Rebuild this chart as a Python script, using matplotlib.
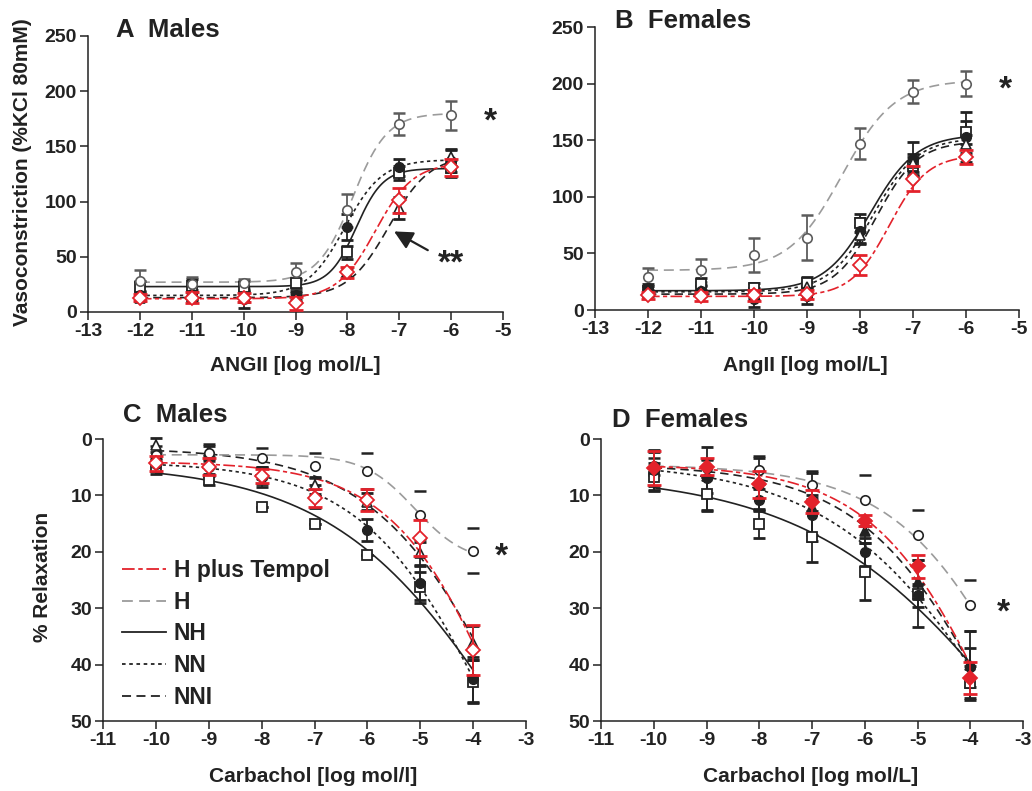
import numpy as np
import matplotlib
matplotlib.use('Agg')
import matplotlib.pyplot as plt
from matplotlib.lines import Line2D

plt.rcParams['font.family'] = ['Liberation Sans', 'DejaVu Sans']
plt.rcParams['font.weight'] = 'bold'
plt.rcParams['axes.labelweight'] = 'bold'
plt.rcParams['axes.unicode_minus'] = False

RED = '#e3222b'
GRAY_LINE = '#9b9b9b'
GRAY_MK = '#5c5c5c'
INK = '#222222'

# ---- data ----
ang_x = [-12, -11, -10, -9, -8, -7, -6]
carb_x = [-10, -9, -8, -7, -6, -5, -4]

# A: ANGII, males  (mean, sem)
a_HT = [13, 13, 13, 8, 36, 101, 131]
a_HT_err = [3, 5, 4, 6, 5, 11, 8]
a_H = [28, 25, 26, 36, 92, 170, 178]
a_H_err = [10, 7, 4, 8, 15, 10, 13]
a_NH = [23, 24, 23, 26, 54, 126, 130]
a_NH_err = [5, 6, 5, 4, 6, 6, 8]
a_NN = [15, 16, 12, 15, 77, 131, 137]
a_NN_err = [4, 4, 8, 4, 12, 8, 10]
a_NNI = [13, 14, 14, 13, 36, 94, 140]
a_NNI_err = [3, 4, 5, 4, 4, 10, 8]

# B: AngII, females
b_HT = [13, 12, 13, 14, 40, 116, 135]
b_HT_err = [3, 4, 5, 4, 9, 11, 6]
b_H = [29, 35, 49, 64, 147, 193, 200]
b_H_err = [8, 10, 15, 20, 14, 10, 11]
b_NH = [17, 23, 19, 24, 77, 127, 157]
b_NH_err = [4, 5, 5, 5, 8, 8, 10]
b_NN = [19, 17, 10, 12, 70, 133, 153]
b_NN_err = [4, 4, 7, 7, 11, 15, 22]
b_NNI = [15, 17, 14, 20, 66, 130, 147]
b_NNI_err = [3, 5, 5, 5, 8, 8, 8]

# C: carbachol, males
c_HT = [4.3, 4.9, 6.6, 10.4, 10.8, 17.6, 37.4]
c_HT_err = [1.3, 1.5, 1.2, 1.6, 2.0, 3.2, 4.5]
c_H = [2.8, 2.4, 3.4, 4.7, 5.6, 13.5, 19.8]
c_H_err = [1.5, 1.5, 1.8, 2.3, 3.2, 4.3, 4.0]
c_NH = [5.0, 7.2, 12.1, 15.1, 20.6, 26.3, 43.0]
c_NH_err = [1.2, 1.0, 0, 0, 0, 2.8, 3.8]
c_NN = [4.5, 5.0, 6.7, 10.2, 16.1, 25.6, 42.6]
c_NN_err = [1.2, 1.5, 1.8, 2.0, 2.0, 3.0, 4.0]
c_NNI = [1.1, 2.2, 6.4, 8.2, 11.1, 20.3, 36.2]
c_NNI_err = [1.2, 1.0, 1.5, 1.5, 1.5, 2.0, 3.0]

# D: carbachol, females
d_HT = [5.2, 4.9, 8.0, 11.1, 14.5, 22.6, 42.4]
d_HT_err = [3.0, 1.5, 2.4, 2.1, 1.0, 2.0, 2.9]
d_H = [4.8, 5.2, 5.5, 8.2, 10.9, 17.0, 29.5]
d_H_err = [1.5, 1.5, 2.5, 2.5, 4.6, 4.5, 4.5]
d_NH = [6.7, 9.8, 15.1, 17.3, 23.5, 27.4, 43.3]
d_NH_err = [2.5, 3.0, 2.5, 4.5, 5.0, 6.0, 3.0]
d_NN = [5.5, 7.0, 10.8, 13.5, 20.0, 27.7, 40.5]
d_NN_err = [3.5, 5.5, 2.0, 3.5, 2.5, 2.0, 3.5]
d_NNI = [5.3, 6.5, 7.9, 12.0, 16.4, 25.3, 40.0]
d_NNI_err = [3.0, 3.0, 4.5, 6.0, 2.0, 3.0, 6.0]

# fitted curves: bottom, top, logEC50, hill slope
a_fit = {'HT': [12, 135, -7.46, 1.19], 'H': [27, 180, -7.9, 1.3],
         'NH': [23, 130, -7.83, 1.67], 'NN': [15, 138, -8.05, 1.2],
         'NNI': [13, 142, -7.2, 1.1]}
b_fit = {'HT': [12, 137, -7.45, 1.2], 'H': [35, 203, -8.34, 0.87],
         'NH': [17, 155, -7.8, 1.0], 'NN': [16, 152, -7.75, 1.05],
         'NNI': [14, 149, -7.7, 1.1]}
c_fit = {'HT': [4, 100, -3.26, 0.4], 'H': [2.8, 22, -5.1, 0.9],
         'NH': [4.3, 100, -3.19, 0.255], 'NN': [4, 100, -3.49, 0.345],
         'NNI': [1.5, 100, -3.14, 0.328]}
d_fit = {'HT': [4.5, 100, -3.37, 0.3625], 'H': [4.5, 100, -2.69, 0.343],
         'NH': [6, 100, -2.83, 0.2145], 'NN': [4, 100, -3.19, 0.263],
         'NNI': [4.5, 100, -3.31, 0.329]}

legend_names = ['H plus Tempol', 'H', 'NH', 'NN', 'NNI']
order = ['NH', 'NN', 'NNI', 'H', 'HT']

line_style = {
    'HT': dict(color=RED, ls=(0, (7, 2, 2.5, 2))),
    'H': dict(color=GRAY_LINE, ls=(0, (6, 3.5))),
    'NH': dict(color=INK, ls='-'),
    'NN': dict(color=INK, ls=(0, (2, 2))),
    'NNI': dict(color=INK, ls=(0, (5, 3))),
}


def hill(x, bottom, top, ec, h):
    return bottom + (top - bottom) / (1 + 10 ** ((ec - x) * h))


def style_axis(ax, xlim, ylim, yticks):
    ax.set_xlim(*xlim)
    ax.set_ylim(*ylim)
    ax.set_xticks(range(int(xlim[0]), int(xlim[1]) + 1))
    ax.set_yticks(yticks)
    for s in ['top', 'right']:
        ax.spines[s].set_visible(False)
    for s in ['left', 'bottom']:
        ax.spines[s].set_linewidth(1.1)
        ax.spines[s].set_color(INK)
    ax.tick_params(direction='out', length=6, width=1.1, color=INK,
                   labelsize=14, pad=2)
    for lab in ax.get_xticklabels() + ax.get_yticklabels():
        lab.set_fontweight('bold')
        lab.set_color(INK)


def draw_panel(ax, x, series, fits, female_fill=False, cap_only_h=False):
    xs = np.linspace(x[0], x[-1], 300)
    for g in order:
        p = fits[g]
        ax.plot(xs, hill(xs, *p), lw=1.2, zorder=2, **line_style[g])
    for g in order:
        y, err = series[g]
        if g == 'H':
            ec = INK if cap_only_h else GRAY_MK
            ax.errorbar(x, y, yerr=err, fmt='none', ecolor=ec,
                        elinewidth=0 if cap_only_h else 1.3,
                        capsize=4.5, capthick=1.8, zorder=3)
            ax.plot(x, y, 'o', ms=6.8, mfc='white', mec=ec, mew=1.2,
                    ls='none', zorder=4)
        elif g == 'HT':
            ax.errorbar(x, y, yerr=err, fmt='none', ecolor=RED, elinewidth=1.3,
                        capsize=5, capthick=2, zorder=5)
            ax.plot(x, y, 'D', ms=7, mfc=RED if female_fill else 'white',
                    mec=RED, mew=1.3, ls='none', zorder=6)
        else:
            ax.errorbar(x, y, yerr=err, fmt='none', ecolor=INK, elinewidth=1.3,
                        capsize=4.5, capthick=2, zorder=3)
            if g == 'NH':
                ax.plot(x, y, 's', ms=6.8, mfc='white', mec=INK, mew=1.3,
                        ls='none', zorder=4)
            elif g == 'NN':
                ax.plot(x, y, 'o', ms=7, mfc=INK, mec=INK, ls='none', zorder=4)
            else:
                ax.plot(x, y, '^', ms=7, mfc=INK if female_fill else 'white',
                        mec=INK, mew=1.2, ls='none', zorder=4)


W, H = 1032, 791
fig = plt.figure(figsize=(W / 100, H / 100), dpi=100)


def add_ax(x0, y0, x1, y1):
    return fig.add_axes([x0 / W, 1 - y1 / H, (x1 - x0) / W, (y1 - y0) / H])


def ftext(px, py, s, **kw):
    fig.text(px / W, 1 - py / H, s, **kw)


axA = add_ax(88, 36, 503, 312)
axB = add_ax(595, 27, 1019, 310)
axC = add_ax(103, 439, 526, 721)
axD = add_ax(601, 439, 1023, 721)

draw_panel(axA, ang_x, {'HT': (a_HT, a_HT_err), 'H': (a_H, a_H_err),
                        'NH': (a_NH, a_NH_err), 'NN': (a_NN, a_NN_err),
                        'NNI': (a_NNI, a_NNI_err)}, a_fit)
draw_panel(axB, ang_x, {'HT': (b_HT, b_HT_err), 'H': (b_H, b_H_err),
                        'NH': (b_NH, b_NH_err), 'NN': (b_NN, b_NN_err),
                        'NNI': (b_NNI, b_NNI_err)}, b_fit)
draw_panel(axC, carb_x, {'HT': (c_HT, c_HT_err), 'H': (c_H, c_H_err),
                         'NH': (c_NH, c_NH_err), 'NN': (c_NN, c_NN_err),
                         'NNI': (c_NNI, c_NNI_err)}, c_fit, cap_only_h=True)
draw_panel(axD, carb_x, {'HT': (d_HT, d_HT_err), 'H': (d_H, d_H_err),
                         'NH': (d_NH, d_NH_err), 'NN': (d_NN, d_NN_err),
                         'NNI': (d_NNI, d_NNI_err)}, d_fit, female_fill=True,
           cap_only_h=True)

style_axis(axA, (-13, -5), (0, 250), range(0, 251, 50))
style_axis(axB, (-13, -5), (0, 250), range(0, 251, 50))
style_axis(axC, (-11, -3), (50, 0), range(0, 51, 10))
style_axis(axD, (-11, -3), (50, 0), range(0, 51, 10))

for ax in [axA, axB, axC, axD]:
    for art in ax.lines + ax.collections:
        art.set_clip_on(False)

# significance marks
star = dict(fontsize=24, fontweight='bold', ha='center', va='center', color=INK)
axA.text(-5.25, 172, '*', **star)
axB.text(-5.26, 194, '*', **star)
axC.text(-3.46, 21, '*', **star)
axD.text(-3.38, 30.8, '*', **star)
axA.text(-6.0, 43, '**', **star)
axA.annotate('', xy=(-7.1, 73), xytext=(-6.45, 56),
             arrowprops=dict(arrowstyle='-|>', color=INK, lw=1.6,
                             mutation_scale=28, shrinkA=0, shrinkB=0))

# panel titles
tt = dict(fontsize=18.5, fontweight='bold', color=INK, va='center', ha='left')
ftext(116, 30, 'A  Males', **tt)
ftext(615, 21, 'B  Females', **tt)
ftext(123, 415, 'C  Males', **tt)
ftext(612, 420, 'D  Females', **tt)

# axis labels
lt = dict(fontsize=15, fontweight='bold', color=INK, ha='center', va='center')
ftext(295, 366, 'ANGII [log mol/L]', **lt)
ftext(805, 366, 'AngII [log mol/L]', **lt)
ftext(313, 776, 'Carbachol [log mol/l]', **lt)
ftext(811, 776, 'Carbachol [log mol/L]', **lt)
ftext(23, 172, 'Vasoconstriction (%KCl 80mM)', rotation=90, **lt)
ftext(43, 577, '% Relaxation', rotation=90, **lt)

# legend in panel C
handles = [Line2D([], [], lw=1.3, **line_style[g]) for g in ['HT', 'H', 'NH', 'NN', 'NNI']]
leg = axC.legend(handles, legend_names, loc='upper left',
                 bbox_to_anchor=(122 / W, 1 - 559 / H), bbox_transform=fig.transFigure,
                 frameon=False, fontsize=16.5, handlelength=1.9, handletextpad=0.35,
                 labelspacing=0.38, borderpad=0, borderaxespad=0)
for t in leg.get_texts():
    t.set_fontweight('bold')
    t.set_color(INK)

fig.savefig('out.png', dpi=100)
